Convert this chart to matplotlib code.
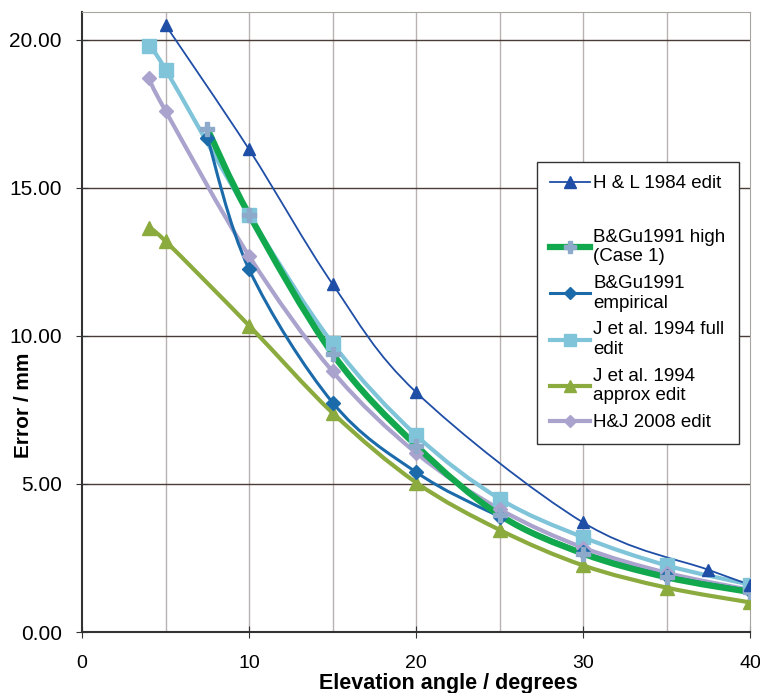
import matplotlib.pyplot as plt
import numpy as np
from matplotlib.path import Path
from matplotlib.patches import PathPatch
from matplotlib.lines import Line2D

plt.rcParams['font.family'] = ['Liberation Sans', 'DejaVu Sans']

# data
hl_x = [5, 10, 15, 20, 30, 37.5, 40]
hl_y = [20.5, 16.3, 11.75, 8.1, 3.7, 2.1, 1.6]

bg_high_x = [7.5, 10, 15, 20, 25, 30, 35, 40]
bg_high_y = [17.0, 14.1, 9.4, 6.3, 3.95, 2.65, 1.85, 1.35]

bg_emp_x = [7.5, 10, 15, 20, 25, 30, 35, 40]
bg_emp_y = [16.7, 12.25, 7.75, 5.4, 3.9, 2.7, 1.9, 1.4]

jfull_x = [4, 5, 10, 15, 20, 25, 30, 35, 40]
jfull_y = [19.8, 19.0, 14.1, 9.75, 6.65, 4.5, 3.2, 2.25, 1.6]

japp_x = [4, 5, 10, 15, 20, 25, 30, 35, 40]
japp_y = [13.65, 13.2, 10.35, 7.4, 5.05, 3.45, 2.25, 1.5, 1.0]

hj_x = [4, 5, 10, 15, 20, 25, 30, 35, 40]
hj_y = [18.7, 17.6, 12.7, 8.8, 6.05, 4.15, 2.85, 2.0, 1.42]

ytick_labels = ['0.00', '5.00', '10.00', '15.00', '20.00']


def smooth_path(xs, ys):
    # Excel style smoothed line: cubic Bezier through the points
    p = np.column_stack([xs, ys]).astype(float)
    n = len(p)
    verts = [p[0]]
    codes = [Path.MOVETO]
    for i in range(n - 1):
        p0 = p[i - 1] if i > 0 else p[i]
        p1, p2 = p[i], p[i + 1]
        p3 = p[i + 2] if i + 2 < n else p[i + 1]
        c1 = p1 + (p2 - p0) / 6.0
        c2 = p2 - (p3 - p1) / 6.0
        verts += [c1, c2, p2]
        codes += [Path.CURVE4] * 3
    return Path(verts, codes)


fig = plt.figure(figsize=(7.6, 6.93), dpi=100)
ax = fig.add_axes([0.108, 0.088, 0.879, 0.895])

series = [
    (jfull_x, jfull_y, '#80c4da', 3, 's', 9.5, '#80c4da'),
    (hj_x, hj_y, '#a9a3cd', 3, 'D', 7.5, '#a9a3cd'),
    (japp_x, japp_y, '#8bab3e', 3, '^', 9.5, '#8bab3e'),
    (bg_emp_x, bg_emp_y, '#1b6aaa', 2.2, 'D', 7.5, '#1b6aaa'),
    (bg_high_x, bg_high_y, '#12a84e', 4.5, 'P', 9.5, '#8eaacb'),
    (hl_x, hl_y, '#1f4ea6', 1.3, '^', 9, '#1f4ea6'),
]
for xs, ys, col, lw, mk, ms, mcol in series:
    ax.add_patch(PathPatch(smooth_path(xs, ys), fill=False, edgecolor=col,
                           lw=lw, capstyle='round', joinstyle='round', zorder=3))
    ax.plot(xs, ys, ls='none', marker=mk, ms=ms, color=mcol, mec=mcol, zorder=4)

ax.set_xlim(0, 40)
ax.set_ylim(0, 20.95)
ax.set_xticks([0, 10, 20, 30, 40])
ax.set_xticks([5, 15, 25, 35], minor=True)
ax.set_yticks([0, 5, 10, 15, 20])
ax.set_yticklabels(ytick_labels)
ax.tick_params(axis='both', length=9, direction='inout', color='#333333')
ax.tick_params(axis='y', labelsize=15, pad=10)
ax.tick_params(axis='x', labelsize=14, pad=12)
ax.tick_params(axis='x', which='minor', length=0)

for v in [5, 10, 15, 20, 25, 30, 35]:
    ax.axvline(v, color='#b8b2b0', lw=1, zorder=1)
for v in [5, 10, 15, 20]:
    ax.axhline(v, color='#4a3c36', lw=1, zorder=1)

ax.spines['left'].set_color('#333333')
ax.spines['bottom'].set_color('#333333')
ax.spines['left'].set_linewidth(1.5)
ax.spines['bottom'].set_linewidth(1.5)
ax.spines['top'].set_color('#a8a4a2')
ax.spines['right'].set_color('#a8a4a2')

ax.set_xlabel('Elevation angle / degrees', fontsize=15.5, fontweight='bold')
ax.set_ylabel('Error / mm', fontsize=15, fontweight='bold')
ax.xaxis.set_label_coords(0.549, -0.066)
ax.yaxis.set_label_coords(-0.073, 0.365)

handles = [
    Line2D([], [], color='#1f4ea6', lw=1.3, marker='^', ms=8),
    Line2D([], [], color='none'),
    Line2D([], [], color='#12a84e', lw=4.5, marker='P', ms=8, mfc='#8eaacb', mec='#8eaacb'),
    Line2D([], [], color='#1b6aaa', lw=2.2, marker='D', ms=6),
    Line2D([], [], color='#80c4da', lw=3, marker='s', ms=9),
    Line2D([], [], color='#8bab3e', lw=3, marker='^', ms=8),
    Line2D([], [], color='#a9a3cd', lw=3, marker='D', ms=6),
]
labels = ['H & L 1984 edit', '', 'B&Gu1991 high\n(Case 1)', 'B&Gu1991\nempirical',
          'J et al. 1994 full\nedit', 'J et al. 1994\napprox edit', 'H&J 2008 edit']
leg = ax.legend(handles, labels, loc='upper left', bbox_to_anchor=(0.681, 0.758),
                borderaxespad=0, fontsize=13.5, frameon=True, fancybox=False,
                handlelength=2.1, handletextpad=0.2, borderpad=0.7,
                labelspacing=0.52, framealpha=1)
leg.get_frame().set_edgecolor('#333333')
leg.get_frame().set_linewidth(1)

fig.savefig('out.png', dpi=100)
